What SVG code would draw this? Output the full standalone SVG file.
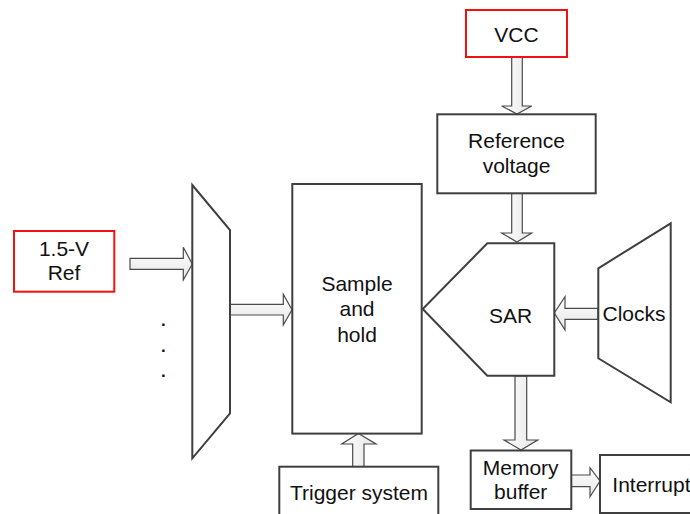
<svg xmlns="http://www.w3.org/2000/svg" width="690" height="514" viewBox="0 0 690 514">
<defs>
<linearGradient id="ag" x1="0" y1="0" x2="0" y2="1"><stop offset="0" stop-color="#ffffff"/><stop offset="1" stop-color="#e6e6e6"/></linearGradient>
<linearGradient id="agv" x1="0" y1="0" x2="1" y2="0"><stop offset="0" stop-color="#ffffff"/><stop offset="1" stop-color="#e6e6e6"/></linearGradient>
</defs>
<style>
.box{fill:#fff;stroke:#3f3f3f;stroke-width:2}
.red{fill:#fff;stroke:#f21010;stroke-width:2}
.ah{fill:url(#ag);stroke:#4a4a4a;stroke-width:1.2;stroke-linejoin:miter}
.av{fill:url(#agv);stroke:#4a4a4a;stroke-width:1.2;stroke-linejoin:miter}
text{font-family:"Liberation Sans",Arial,sans-serif;font-size:21px;fill:#111;text-anchor:middle}
.dot{font-size:17px;font-weight:bold}
</style>
<rect width="690" height="514" fill="#fff"/>
<g id="connectors">
<polygon class="av" points="511.7,57 522.3,57 522.3,106 531.7,106 517,114 501.7,106 511.7,106"/>
<polygon class="av" points="511.7,193.5 522.3,193.5 522.3,233 531.7,233 517,242 501.7,233 511.7,233"/>
<polygon class="ah" points="598,308.3 565,308.3 565,296.7 554.3,313 565,330 565,319.3 598,319.3"/>
<polygon class="av" points="515,376 526.7,376 526.7,440 537.7,440 521,450 504,440 515,440"/>
<polygon class="ah" points="571,475 590,475 590,467.7 600,481 590,496.7 590,486.7 571,486.7"/>
<polygon class="av" points="352.7,467 364,467 364,444 376,444 358.5,433.5 341.7,444 352.7,444"/>
<polygon class="ah" points="130,258.3 183.3,258.3 183.3,247.3 192.3,264 183.3,280 183.3,269.3 130,269.3"/>
<polygon class="ah" points="230,304.3 283.3,304.3 283.3,294.3 292,309.7 283.3,325 283.3,315 230,315"/>
</g>
<g id="vcc"><rect class="red" x="466" y="10" width="101" height="47"/><text x="516.5" y="41.5">VCC</text></g>
<g id="refvoltage"><rect class="box" x="437.3" y="114.3" width="158.4" height="79"/><text x="516.5" y="147.5">Reference</text><text x="516.5" y="173.3">voltage</text></g>
<g id="sar"><polygon class="box" points="487.3,243.3 554.3,243.3 554.3,375.7 487.3,375.7 422.7,309"/><text x="510.5" y="323.3">SAR</text></g>
<g id="clocks"><polygon class="box" points="598.3,268.3 670.7,223.3 670.7,402.3 598.3,358.3"/><text x="634" y="320.7">Clocks</text></g>
<g id="memory"><rect class="box" x="470.7" y="450.5" width="100.6" height="58.5"/><text x="520.7" y="475">Memory</text><text x="520.7" y="499.3">buffer</text></g>
<g id="interrupt"><rect class="box" x="600" y="455" width="100" height="58"/><text x="612.3" y="491.7" style="text-anchor:start">Interrupt</text></g>
<g id="trigger"><rect class="box" x="279.3" y="466.7" width="159" height="60"/><text x="359" y="500">Trigger system</text></g>
<g id="samplehold"><rect class="box" x="292.3" y="184" width="129.4" height="249.6"/><text x="357" y="290.7">Sample</text><text x="357" y="316">and</text><text x="357" y="341.7">hold</text></g>
<g id="mux"><polygon class="box" points="192.3,185 230,230 230,413.3 192.3,458.3"/></g>
<g id="ref15"><rect class="red" x="14" y="231" width="100.3" height="60.7"/><text x="64" y="256">1.5-V</text><text x="64" y="280">Ref</text></g>
<g id="dots"><text class="dot" x="163.3" y="326">.</text><text class="dot" x="163.3" y="352">.</text><text class="dot" x="163.3" y="377">.</text></g>
</svg>
